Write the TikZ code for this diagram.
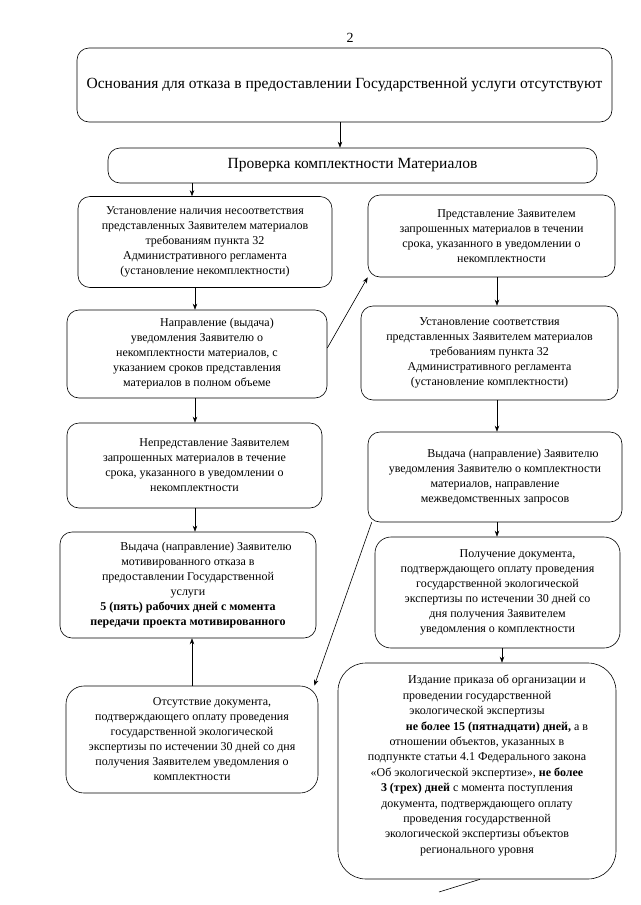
\documentclass[tikz,border=0pt]{standalone}
\usepackage{fontspec}
\setmainfont{Liberation Serif}
\usetikzlibrary{arrows.meta,calc}
\begin{document}
\begin{tikzpicture}[x=1pt,y=-1pt,
  box/.style={draw=black, line width=0.6pt, rounded corners=12pt, align=center, inner sep=0pt,
    font=\fontsize{12}{15}\selectfont},
  big/.style={font=\fontsize{15.5}{18}\selectfont},
  arr/.style={draw=black, line width=0.6pt, -{Stealth[length=6pt,width=4.5pt]}},
  ln/.style={draw=black, line width=0.6pt}]
\useasboundingbox (0,0) rectangle (640,905);
\node[font=\fontsize{14}{16}\selectfont] (pg) at (350,38) {2};

\node[box, big, minimum width=535, minimum height=74] (b1) at (344.5,85)
  {Основания для отказа в предоставлении Государственной услуги отсутствуют};
\node[box, big, minimum width=489, minimum height=35] (b2) at (352.5,165.5)
  {Проверка комплектности Материалов};
\node[box, minimum width=254, minimum height=91] (b3) at (205,242)
  {Установление наличия несоответствия\\ представленных Заявителем материалов\\ требованиям пункта 32\\ Административного регламента\\ (установление некомплектности)};
\node[box, minimum width=260, minimum height=88] (b4) at (197,354)
  {\hspace*{40pt}Направление (выдача)\\ уведомления Заявителю о\hspace*{12pt}\\ некомплектности материалов, с\\ указанием сроков представления\\ материалов в полном объеме};
\node[box, minimum width=247, minimum height=82] (r1) at (491.5,236)
  {\hspace*{30pt}Представление Заявителем\\ запрошенных материалов в течении\\ срока, указанного в уведомлении о\\ \hspace*{20pt}некомплектности};
\node[box, minimum width=257, minimum height=94] (r2) at (489.5,353)
  {Установление соответствия\\ представленных Заявителем материалов\\ требованиям пункта 32\\ Административного регламента\\ (установление комплектности)};
\node[box, minimum width=255, minimum height=85] (b5) at (194.5,465.5)
  {\hspace*{40pt}Непредставление Заявителем\\ запрошенных материалов в течение\\ срока, указанного в уведомлении о\\ некомплектности};
\node[box, minimum width=254, minimum height=90] (r3) at (495,477)
  {\hspace*{36pt}Выдача (направление) Заявителю\\ уведомления Заявителю о комплектности\\ материалов, направление\\ межведомственных запросов};
\node[box, minimum width=256, minimum height=106] (b6) at (188,585)
  {\hspace*{36pt}Выдача (направление) Заявителю\\ мотивированного отказа в\\ предоставлении Государственной\\ услуги\\ \textbf{5 (пять) рабочих дней с момента}\\ \textbf{передачи проекта мотивированного}};
\node[box, rounded corners=16pt, minimum width=245, minimum height=111] (r4) at (497.5,592.5)
  {\hspace*{40pt}Получение документа,\\ подтверждающего оплату проведения\\ государственной экологической\\ экспертизы по истечении 30 дней со\\ дня получения Заявителем\\ уведомления о комплектности};
\node[box, rounded corners=18pt, minimum width=252, minimum height=107] (b7) at (192,739.5)
  {\hspace*{40pt}Отсутствие документа,\\ подтверждающего оплату проведения\\ государственной экологической\\ экспертизы по истечении 30 дней со дня\\ получения Заявителем уведомления о\\ комплектности};
\node[box, font=\fontsize{12}{15.4}\selectfont, rounded corners=28pt, minimum width=278, minimum height=216] (r5) at (477,771)
  {\hspace*{40pt}Издание приказа об организации и\\ проведении государственной\\ экологической экспертизы\hspace*{10pt}\\ \hspace*{40pt}\textbf{не более 15 (пятнадцати) дней,} а в\\ отношении объектов, указанных в\\ подпункте статьи 4.1 Федерального закона\\ «Об экологической экспертизе», \textbf{не более}\\ \textbf{3 (трех) дней} с момента поступления\\ документа, подтверждающего оплату\\ проведения государственной\\ экологической экспертизы объектов\\ регионального уровня\\[-2pt]};

\coordinate (xa) at (340,0);
\coordinate (xb) at (192,0);
\coordinate (xc) at (195,0);
\coordinate (xd) at (497,0);
\coordinate (xe) at (502,0);
\coordinate (xf) at (480,0);
\coordinate (end) at (439,892);

\draw[arr] (b1.south -| xa) -- (b2.north -| xa);
\draw[arr] (b2.south -| xb) -- (b3.north -| xb);
\draw[arr] (b3.south -| xc) -- (b4.north -| xc);
\draw[arr] (b4.south -| xc) -- (b5.north -| xc);
\draw[arr] (b5.south -| xc) -- (b6.north -| xc);
\draw[arr] (b7.north -| xb) -- (b6.south -| xb);
\draw[arr] ($(b4.east)+(0,-6)$) -- (r1.south west);
\draw[arr] (r1.south -| xd) -- (r2.north -| xd);
\draw[arr] (r2.south -| xd) -- (r3.north -| xd);
\draw[arr] (r3.south -| xd) -- (r4.north -| xd);
\draw[arr] (r4.south -| xe) -- (r5.north -| xe);
\draw[arr] ([xshift=4pt]r3.south west) -- ([xshift=-4pt]b7.north east);
\draw[ln] (r5.south -| xf) -- (end);
\end{tikzpicture}
\end{document}
